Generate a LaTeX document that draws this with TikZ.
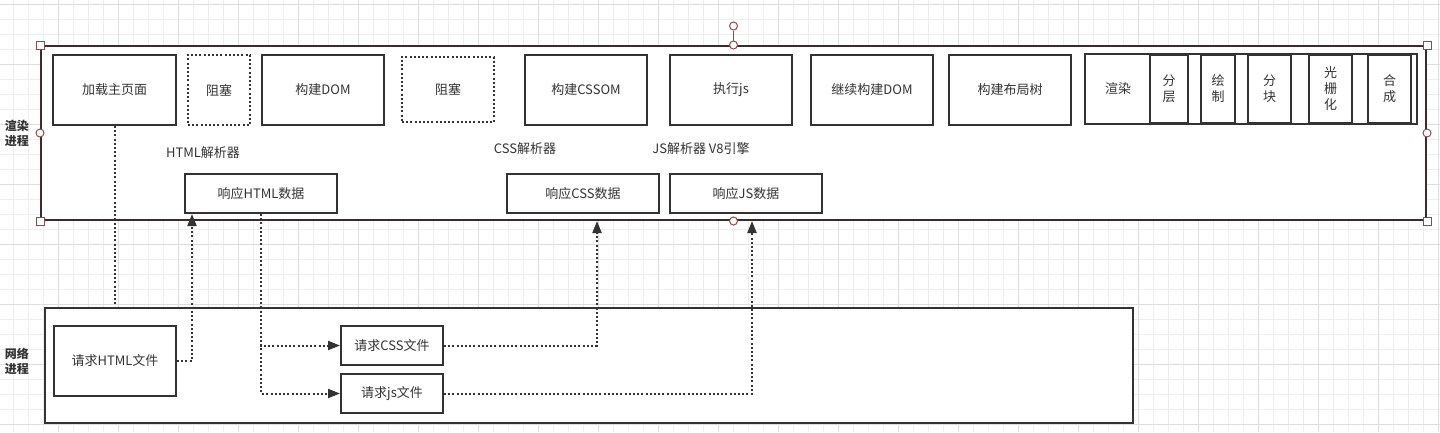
\documentclass[tikz,border=0pt]{standalone}
\usepackage{fontspec}
\setmainfont{Noto Sans CJK SC}
\usepackage{tikz}
\usetikzlibrary{arrows.meta}
\definecolor{ink}{HTML}{333333}
\definecolor{framec}{HTML}{3D2A2C}
\definecolor{hdl}{HTML}{8C4B4B}
\definecolor{gmin}{HTML}{EEEEEE}
\definecolor{gmaj}{HTML}{DEDEDE}
\begin{document}
\begin{tikzpicture}[x=1pt,y=-1pt,
		font=\fontsize{13}{16}\selectfont, text=ink,
		blk/.style={draw=ink,line width=2pt,fill=white,inner sep=0pt,align=center,minimum height=70},
		wait/.style={blk,solid,dash pattern=on 2pt off 2.2pt},
		sub/.style={blk,minimum height=68},
		resp/.style={blk,minimum width=152,minimum height=39},
		flow/.style={draw=ink,line width=2pt,dash pattern=on 2pt off 2.2pt},
		tip/.style={-{Triangle[length=12pt,width=9pt]}},
		hsq/.style={draw=hdl,fill=white,line width=1pt,minimum size=8,inner sep=0pt},
		hci/.style={hsq,circle,minimum size=8}]
		\useasboundingbox (0,0) rectangle (1440,432);
		\fill[white] (0,0) rectangle (1440,432);
		\foreach \x in {13,28,...,1438} \draw[gmin] (\x,0)--(\x,432);
		\foreach \y in {4,19,...,424} \draw[gmin] (0,\y)--(1440,\y);
		\foreach \x in {58,118,...,1438} \draw[gmaj] (\x,0)--(\x,432);
		\foreach \y in {4,64,...,424} \draw[gmaj] (0,\y)--(1440,\y);
		\node[draw=framec,line width=2pt,fill=white,minimum width=1385,minimum height=174] (render) at (733.5,133) {};
		\node[draw=ink,line width=2pt,fill=white,minimum width=1088,minimum height=115] (net) at (589,365.5) {};
		\node[font=\fontsize{12}{15}\selectfont\bfseries,align=center] (rlab) at (17,133) {渲染\\进程};
		\node[font=\fontsize{12}{15}\selectfont\bfseries,align=center] (nlab) at (17,361) {网络\\进程};
		\node[blk,minimum width=123] (load) at (114.5,90) {加载主页面};
		\node[wait,minimum width=62] (wait1) at (219,90) {阻塞};
		\node[blk,minimum width=122] (dom) at (323,90) {构建DOM};
		\node[wait,minimum width=92,minimum height=65] (wait2) at (448,89.5) {阻塞};
		\node[blk,minimum width=122] (cssom) at (586,90) {构建CSSOM};
		\node[blk,minimum width=122] (runjs) at (731,90) {执行js};
		\node[blk,minimum width=122] (dom2) at (872,90) {继续构建DOM};
		\node[blk,minimum width=122] (layout) at (1010,90) {构建布局树};
		\node[blk,minimum width=332] (paint) at (1251,89) {};
		\node (plab) at (1118,89) {渲染};
		\node[sub,minimum width=38] (layer) at (1169,89) {分\\层};
		\node[sub,minimum width=34] (draw) at (1218,89) {绘\\制};
		\node[sub,minimum width=43] (tile) at (1269.5,89) {分\\块};
		\node[sub,minimum width=43] (raster) at (1330.5,89) {光\\栅\\化};
		\node[sub,minimum width=43] (comp) at (1389.5,89) {合\\成};
		\node (hparse) at (203,153) {HTML解析器};
		\node (cparse) at (525,149) {CSS解析器};
		\node (jparse) at (701,149) {JS解析器 V8引擎};
		\node[resp] (rhtml) at (261,193.5) {响应HTML数据};
		\node[resp] (rcss) at (583,193.5) {响应CSS数据};
		\node[resp] (rjs) at (746,193.5) {响应JS数据};
		\node[blk,minimum width=122] (qhtml) at (115,361) {请求HTML文件};
		\node[blk,minimum width=102,minimum height=39] (qcss) at (392,345.5) {请求CSS文件};
		\node[blk,minimum width=102,minimum height=39] (qjs) at (392,393.5) {请求js文件};
		\coordinate (h1) at (192,0);
		\coordinate (c1) at (597,0);
		\coordinate (j1) at (752,0);
		\draw[flow] (load.south) -- (load.south |- net.north);
		\draw[flow,tip] (qhtml.east) -| (h1 |- rhtml.south);
		\draw[flow,tip] (rhtml.south) |- (qcss.west);
		\draw[flow,tip] (rhtml.south) |- (qjs.west);
		\draw[flow,tip] (qcss.east) -| (c1 |- render.south);
		\draw[flow,tip] (qjs.east) -| (j1 |- render.south);
		\node[hci] (rot) at (733.5,26) {};
		\draw[hdl,line width=1pt] (rot) -- (render.north);
		\foreach \a in {north west,north east,south west,south east} \node[hsq] at (render.\a) {};
		\foreach \a in {north,south,west,east} \node[hci] at (render.\a) {};
	\end{tikzpicture}
\end{document}
